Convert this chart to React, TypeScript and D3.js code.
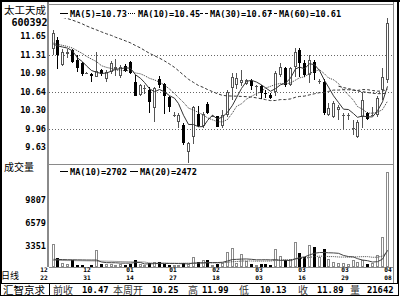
import React from 'react';
import * as d3 from 'd3';

const opens = [11.42,11.58,11.12,11.33,11.40,11.21,11.16,10.97,10.95,10.91, 11.03,10.86,11.00,11.05,10.92,11.10,11.18,10.82,10.58,10.70, 10.67,10.34,10.87,10.78,10.54,10.21,10.09,10.03,9.53,9.82, 10.23,10.01,10.41,10.19,10.19,10.01,10.21,10.70,10.76,10.80, 10.78,10.84,10.73,10.74,10.62,10.57,10.64,10.94,11.07,10.76, 11.09,11.39,11.15,10.94,11.18,10.82,10.82,10.21,10.18,10.30, 10.21,10.21,9.97,9.82,10.18,10.25,10.19,10.21,10.67,10.85];
const highs = [11.76,11.64,11.42,11.42,11.42,11.30,11.18,11.00,10.98,11.36, 11.05,11.04,11.20,11.24,11.12,11.14,11.20,10.94,10.78,10.76, 10.72,10.73,10.92,10.80,10.55,10.26,10.24,10.06,9.73,10.38, 10.38,10.27,10.44,10.22,10.20,10.30,10.67,10.98,10.98,11.03, 10.87,10.86,10.76,10.76,10.66,10.62,11.01,11.15,11.09,11.08, 11.43,11.43,11.21,11.31,11.21,10.86,10.86,10.43,10.46,10.40, 10.24,10.24,10.12,10.12,10.64,10.27,10.35,10.55,11.07,11.99];
const lows = [11.30,11.05,11.10,11.25,11.15,11.00,10.93,10.95,10.82,10.90, 10.92,10.82,10.95,10.92,10.88,10.99,10.96,10.55,10.56,10.60, 10.25,10.09,10.70,10.23,10.27,10.17,9.98,9.67,9.33,9.68, 10.00,9.97,10.23,10.17,9.99,9.98,10.18,10.48,10.68,10.74, 10.76,10.66,10.55,10.50,10.52,10.50,10.55,10.91,10.73,10.74, 10.91,10.91,10.91,10.80,10.85,10.77,10.21,10.19,10.15,10.12, 9.95,10.13,9.84,9.80,9.97,10.13,10.19,10.18,10.48,10.80];
const closes = [11.70,11.30,11.36,11.35,11.18,11.06,10.96,10.98,10.93,11.02, 10.95,11.00,11.16,11.08,11.09,11.02,10.97,10.56,10.76,10.71, 10.45,10.70,10.76,10.55,10.36,10.22,10.21,9.70,9.71,10.36, 10.01,10.23,10.25,10.20,10.00,10.21,10.64,10.90,10.88,10.85, 10.85,10.74,10.74,10.62,10.59,10.53,10.98,11.09,10.76,11.06, 11.36,11.15,10.94,11.22,10.97,10.83,10.24,10.34,10.43,10.36, 10.22,10.21,9.97,10.09,10.48,10.14,10.21,10.52,10.91,11.89];
const volumes = [3500,1600,890,700,1230,570,650,500,600,2700, 700,750,800,600,750,550,700,1270,700,600, 860,1030,1070,700,650,550,600,900,700,1700, 1000,1320,1320,650,700,900,2400,3000,900,2100, 1200,800,600,700,800,650,2790,1840,1230,1460, 3870,2310,1750,3400,3200,1700,2800,1500,1000,900, 890,700,1230,1000,1230,800,900,1980,4530,13760];

const ma5 = [11.50,11.47,11.45,11.43,11.378,11.25,11.182,11.106,11.022,10.99, 10.968,10.976,11.012,11.042,11.056,11.07,11.064,10.944,10.88,10.804, 10.69,10.636,10.676,10.634,10.564,10.518,10.42,10.208,10.04,10.04, 9.998,10.002,10.112,10.21,10.138,10.178,10.26,10.39,10.526,10.696, 10.824,10.844,10.812,10.76,10.708,10.644,10.692,10.762,10.79,10.884, 11.05,11.084,11.054,11.146,11.128,11.022,10.84,10.72,10.562,10.44, 10.318,10.312,10.238,10.17,10.194,10.178,10.178,10.288,10.452,10.734];
const ma10 = [11.52,11.50,11.48,11.46,11.43,11.38,11.33,11.28,11.23,11.184, 11.109,11.079,11.059,11.032,11.023,11.019,11.02,10.978,10.961,10.93, 10.88,10.85,10.81,10.757,10.684,10.604,10.528,10.442,10.337,10.302, 10.258,10.211,10.16,10.125,10.089,10.088,10.131,10.251,10.368,10.417, 10.501,10.552,10.601,10.643,10.702,10.734,10.768,10.787,10.775,10.796, 10.847,10.888,10.908,10.968,11.006,11.036,10.962,10.887,10.854,10.784, 10.67,10.576,10.479,10.366,10.317,10.248,10.245,10.263,10.311,10.464];
const ma30 = [12.038,12.013,11.990,11.967,11.938,11.905,11.869,11.833,11.796,11.761, 11.725,11.690,11.660,11.628,11.596,11.561,11.525,11.476,11.433,11.388, 11.335,11.290,11.247,11.197,11.140,11.079,11.018,10.940,10.862,10.805, 10.749,10.713,10.676,10.638,10.599,10.570,10.560,10.557,10.555,10.550, 10.546,10.538,10.524,10.508,10.492,10.475,10.476,10.493,10.493,10.505, 10.535,10.550,10.556,10.579,10.599,10.619,10.620,10.642,10.666,10.666, 10.673,10.672,10.663,10.659,10.675,10.673,10.658,10.646,10.647,10.681];
// MA(60) is only shown where enough history exists (last part of the chart)
const ma60: (number | null)[] = [null,null,null,null,null,null,null,null,null,null, null,null,null,null,null,null,null,null,null,null, null,null,null,null,null,null,null,null,null,null, null,null,null,null,null,null,null,null,null,null, null,null,null,null,null,null,null,null,null,null, null,null,null,null,null,null,null,null,null,10.736, 10.711,10.693,10.670,10.649,10.637,10.622,10.609,10.601,10.601,10.616];
const volMa10 = [1400,1380,1360,1340,1330,1320,1310,1300,1295,1294, 1014,929,920,910,862,860,865,942,952,742, 758,786,813,823,813,813,803,766,766,876, 890,919,944,939,944,979,1159,1369,1389,1429, 1449,1397,1325,1330,1340,1315,1354,1238,1271,1207, 1474,1625,1740,2010,2250,2355,2356,2322,2299,2243, 1945,1784,1732,1492,1295,1205,1015,1063,1416,2702];
const volMa20 = [1250,1240,1230,1220,1210,1200,1190,1180,1170,1160, 1150,1140,1120,1100,1080,1060,1050,1040,1030,1018, 886,858,867,867,838,837,834,854,859,809, 824,853,879,881,879,896,981,1068,1078,1153, 1170,1158,1135,1135,1142,1147,1257,1304,1330,1318, 1462,1511,1533,1670,1795,1835,1855,1780,1785,1725, 1710,1705,1736,1751,1773,1780,1686,1693,1858,2473];

const priceTicks = [11.65, 11.31, 10.98, 10.64, 10.30, 9.96, 9.63];
const priceGrid = [11.31, 10.64, 9.96];
const volTicks = [9807, 6579, 3351];
const dateMonths = ['12', '12', '01', '01', '02', '03', '03', '03', '04'];
const dateDays = ['22', '31', '14', '27', '18', '03', '16', '29', '08'];
const priceLegend = [
  { text: 'MA(5)=10.73', dash: 'none' },
  { text: 'MA(10)=10.45', dash: '1,1' },
  { text: 'MA(30)=10.67', dash: '3,2' },
  { text: 'MA(60)=10.61', dash: '3,2' },
];
const volLegend = [
  { text: 'MA(10)=2702', dash: 'none' },
  { text: 'MA(20)=2472', dash: 'none' },
];
const statusItems = [
  { text: '前收', x: 53, cjk: true },
  { text: '10.47', x: 82, cjk: false },
  { text: '本周开', x: 113, cjk: true },
  { text: '10.25', x: 152, cjk: false },
  { text: '高', x: 188, cjk: true },
  { text: '11.99', x: 202, cjk: false },
  { text: '低', x: 239, cjk: true },
  { text: '10.13', x: 260, cjk: false },
  { text: '收', x: 298, cjk: true },
  { text: '11.89', x: 317, cjk: false },
  { text: '量', x: 350, cjk: true },
  { text: '21642', x: 367, cjk: false },
];

const MONO = '"DejaVu Sans Mono", "Liberation Mono", monospace';
const CJK = '"Noto Sans CJK SC", "Noto Sans CJK JP", sans-serif';
const UP = '#555';
const GRAY = '#8a8a8a';

export default function App() {
  const n = closes.length;
  const xc = d3.scaleLinear().domain([0, n - 1]).range([52.5, 386.5]);
  const px = (i: number) => Math.round(xc(i));
  const yP = d3.scaleLinear().domain([9.63, 11.65]).range([147, 36]);
  const yV = d3.scaleLinear().domain([0, 9807]).range([269.2, 199.8]);
  const xLab = d3.scalePoint<number>().domain(d3.range(dateDays.length)).range([44, 388]);
  const pLine = d3.line<number | null>().defined((d) => d != null).x((_, i) => px(i) + 0.5).y((d) => yP(d as number));
  const vLine = d3.line<number>().x((_, i) => px(i) + 0.5).y((d) => yV(d));
  const VBASE = 267;

  return (
    <svg width={400} height={300} style={{ position: 'fixed', left: 0, top: 0, background: '#fff' }}>
      <defs>
        <clipPath id="pclip"><rect x={49} y={18} width={344} height={146} /></clipPath>
        <clipPath id="vclip"><rect x={49} y={165} width={344} height={102} /></clipPath>
      </defs>
      <rect x={0} y={0} width={400} height={300} fill="#fff" />

      {/* frame */}
      <rect x={0} y={0} width={400} height={2} fill="#000" />
      <rect x={0} y={0} width={2} height={283} fill="#000" />
      <rect x={397} y={0} width={2} height={283} fill="#000" />
      <rect x={47} y={2} width={2} height={265} fill={GRAY} />
      <rect x={393} y={2} width={1} height={281} fill={GRAY} />
      <rect x={49} y={4} width={344} height={1} fill={GRAY} />
      <rect x={49} y={164} width={344} height={1} fill={GRAY} />
      <rect x={49} y={267} width={344} height={1} fill={GRAY} />

      {/* grid */}
      {priceGrid.map((v) => (
        <line key={v} x1={49} x2={393} y1={Math.round(yP(v)) + 0.5} y2={Math.round(yP(v)) + 0.5}
          stroke="#666" strokeWidth={1} strokeDasharray="1,2" />
      ))}

      {/* candles */}
      <g clipPath="url(#pclip)">
        {closes.map((c, i) => {
          const o = opens[i];
          const p = px(i);
          const up = c >= o;
          const col = up ? UP : '#000';
          const top = Math.round(yP(Math.max(o, c)));
          const bot = Math.round(yP(Math.min(o, c)));
          const yh = Math.round(yP(highs[i]));
          const yl = Math.round(yP(lows[i]));
          return (
            <g key={i}>
              <rect x={p} y={yh} width={1} height={Math.max(0, top - yh)} fill={col} />
              <rect x={p} y={bot} width={1} height={Math.max(0, yl - bot)} fill={col} />
              {bot - top <= 1 ? (
                <rect x={p - 1} y={top} width={3} height={1} fill={col} />
              ) : up ? (
                <rect x={p - 0.5} y={top + 0.5} width={2} height={bot - top - 1} fill="#fff" stroke={col} strokeWidth={1} />
              ) : (
                <rect x={p - 1} y={top} width={3} height={bot - top} fill={col} />
              )}
            </g>
          );
        })}
        <path d={pLine(ma5) || ''} fill="none" stroke="#333" strokeWidth={1} />
        <path d={pLine(ma10) || ''} fill="none" stroke="#333" strokeWidth={1} strokeDasharray="1,1" />
        <path d={pLine(ma30) || ''} fill="none" stroke="#333" strokeWidth={1} strokeDasharray="3,2" />
        <path d={pLine(ma60) || ''} fill="none" stroke="#333" strokeWidth={1} strokeDasharray="3,2" />
      </g>

      {/* volume */}
      <g clipPath="url(#vclip)">
        {volumes.map((v, i) => {
          const p = px(i);
          const up = closes[i] >= opens[i];
          const t = Math.round(yV(v));
          return up ? (
            <rect key={i} x={p - 0.5} y={t + 0.5} width={2} height={Math.max(0, VBASE - t - 1)} fill="#fff" stroke={GRAY} strokeWidth={1} />
          ) : (
            <rect key={i} x={p - 1} y={t} width={3} height={Math.max(0, VBASE - t)} fill="#000" />
          );
        })}
        <path d={vLine(volMa10) || ''} fill="none" stroke="#444" strokeWidth={1} />
        <path d={vLine(volMa20) || ''} fill="none" stroke="#444" strokeWidth={1} strokeDasharray="1,1" />
      </g>

      {/* header */}
      <text x={4} y={14} fontFamily={CJK} fontSize={10.5} fill="#000">太工天成</text>
      <text x={47.5} y={26} textAnchor="end" fontFamily={MONO} fontWeight="bold" fontSize={10} fill="#000">600392</text>

      {/* price legend */}
      {priceLegend.map((d, k) => {
        const x0 = [60, 128, 200, 269][k];
        return (
          <g key={k}>
            <line x1={x0} x2={x0 + 8} y1={13.5} y2={13.5} stroke="#000" strokeWidth={1} strokeDasharray={d.dash} />
            <text x={x0 + 10} y={17} fontFamily={MONO} fontWeight="bold" fontSize={8.6} fill="#000">{d.text}</text>
          </g>
        );
      })}

      {/* price axis labels */}
      {priceTicks.map((v) => (
        <text key={v} x={46} y={yP(v) + 3.2} textAnchor="end" fontFamily={MONO} fontWeight="bold" fontSize={8.6} fill="#000">
          {v.toFixed(2)}
        </text>
      ))}

      {/* volume header & labels */}
      <text x={4} y={171} fontFamily={CJK} fontSize={10} fill="#000">成交量</text>
      {volLegend.map((d, k) => {
        const x0 = [60, 130][k];
        return (
          <g key={k}>
            <line x1={x0} x2={x0 + 8} y1={171.5} y2={171.5} stroke="#000" strokeWidth={1} strokeDasharray={d.dash} />
            <text x={x0 + 10} y={175} fontFamily={MONO} fontWeight="bold" fontSize={8.6} fill="#000">{d.text}</text>
          </g>
        );
      })}
      {volTicks.map((v) => (
        <text key={v} x={46} y={yV(v) + 3.2} textAnchor="end" fontFamily={MONO} fontWeight="bold" fontSize={8.6} fill="#000">
          {v}
        </text>
      ))}

      {/* x axis */}
      <text x={1} y={279} fontFamily={CJK} fontSize={9} fill="#000">日线</text>
      {dateDays.map((d, i) => (
        <g key={i}>
          <text x={xLab(i)} y={272.3} textAnchor="middle" fontFamily={MONO} fontWeight="bold" fontSize={6.2} fill="#000">{dateMonths[i]}</text>
          <text x={xLab(i)} y={279.5} textAnchor="middle" fontFamily={MONO} fontWeight="bold" fontSize={6.2} fill="#000">{d}</text>
        </g>
      ))}

      {/* status bar */}
      <rect x={0.5} y={283.5} width={398} height={12} fill="none" stroke="#000" strokeWidth={1} />
      <rect x={0.5} y={283.5} width={49} height={12} fill="none" stroke="#000" strokeWidth={1} />
      <text x={3} y={293.5} fontFamily={CJK} fontSize={10.5} fill="#000">汇智京求</text>
      {statusItems.map((s, k) => (
        <text key={k} x={s.x} y={s.cjk ? 293.5 : 292.5} fontFamily={s.cjk ? CJK : MONO}
          fontWeight={s.cjk ? 'normal' : 'bold'} fontSize={s.cjk ? 10 : 8.8} fill={s.cjk ? '#333' : '#000'}>
          {s.text}
        </text>
      ))}
    </svg>
  );
}
